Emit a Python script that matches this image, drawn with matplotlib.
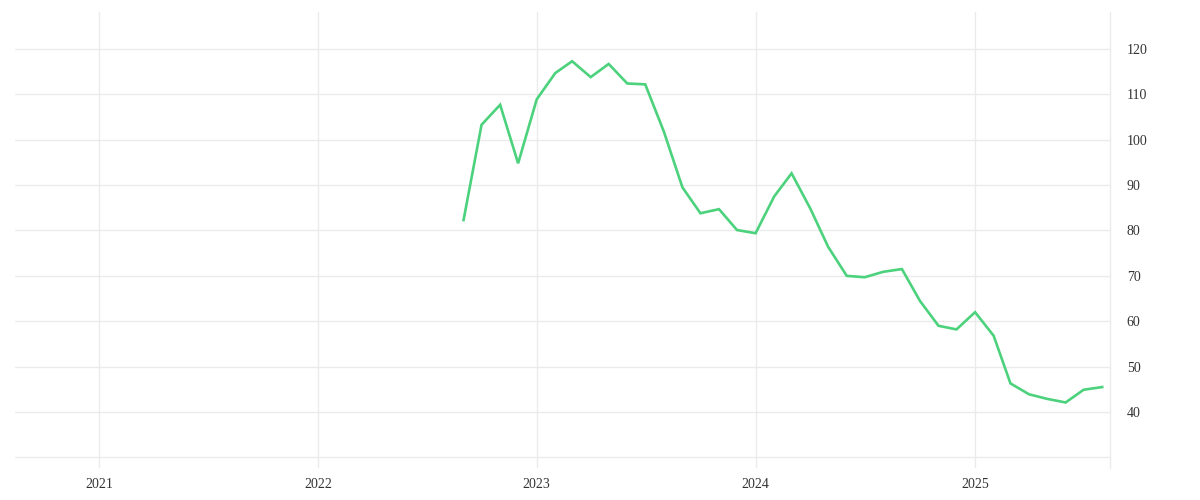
import matplotlib
matplotlib.use("Agg")
import matplotlib.pyplot as plt
import matplotlib.dates as mdates
import pandas as pd

start_month = "2022-09-01"
values = [82.3, 103.3, 107.7, 94.8,
          108.9, 114.7, 117.3, 113.8, 116.7, 112.4, 112.2, 101.8, 89.5, 83.8, 84.7, 80.1,
          79.4, 87.5, 92.6, 84.9, 76.4, 70.0, 69.7, 70.9, 71.5, 64.5, 59.0, 58.2,
          62.0, 56.8, 46.3, 43.9, 42.9, 42.1, 44.9, 45.5]
dates = pd.date_range(start_month, periods=len(values), freq="MS")
year_ticks = ["2021", "2022", "2023", "2024", "2025"]
y_ticks = [30, 40, 50, 60, 70, 80, 90, 100, 110, 120]
y_labels = ["", "40", "50", "60", "70", "80", "90", "100", "110", "120"]

plt.rcParams['font.family'] = ['Liberation Serif', 'DejaVu Serif']

fig = plt.figure(figsize=(12, 5), dpi=100)
ax = fig.add_axes([15/1200, 32/500, 1095/1200, 456/500])

ax.plot(dates, values, color="#4cd27c", linewidth=1.9, solid_joinstyle="miter")

ax.set_xlim(pd.Timestamp("2020-08-14"), pd.Timestamp("2025-08-14"))
ax.set_ylim(27.66, 128.15)

ax.set_xticks([pd.Timestamp(f"{y}-01-01") for y in year_ticks])
ax.set_xticklabels(year_ticks)
ax.set_yticks(y_ticks)
ax.set_yticklabels(y_labels)
ax.yaxis.tick_right()

ax.tick_params(axis="both", length=0, labelsize=10, colors="#333333")
ax.tick_params(axis="x", pad=7)
ax.tick_params(axis="y", pad=12)

ax.grid(True, color="#ebebeb", linewidth=1)
ax.set_axisbelow(True)
for s in ["top", "left", "bottom"]:
    ax.spines[s].set_visible(False)
ax.spines["right"].set_color("#ebebeb")
ax.spines["right"].set_linewidth(1)

fig.savefig("out.png", dpi=100)
